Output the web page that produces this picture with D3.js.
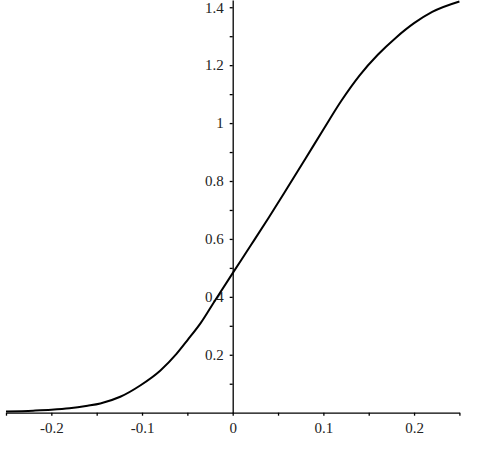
<!DOCTYPE html>
<html>
<head>
<meta charset="utf-8">
<script src="https://cdn.jsdelivr.net/npm/d3@7"></script>
<style>
  body { margin: 0; background: #fff; }
  svg { display: block; }
  .axis text { font-family: "Liberation Serif", "Times New Roman", serif; font-size: 15px; fill: #222; }
</style>
</head>
<body>
<div id="chart"></div>
<script>
// curve points
var xs = [-0.25, -0.22, -0.2, -0.18, -0.16, -0.146, -0.124, -0.102, -0.08, -0.062, -0.05, -0.035, -0.02,
          0, 0.02, 0.04, 0.06, 0.08, 0.1, 0.12, 0.14, 0.16, 0.18, 0.2, 0.22, 0.25];
var ys = [0.004, 0.007, 0.010, 0.015, 0.024, 0.032, 0.055, 0.094, 0.145, 0.203, 0.250, 0.311, 0.385,
          0.482, 0.578, 0.675, 0.775, 0.876, 0.978, 1.078, 1.165, 1.236, 1.295, 1.345, 1.384, 1.42];

var xTicks = [-0.2, -0.1, 0, 0.1, 0.2];
var xMinor = [-0.25, -0.15, -0.05, 0.05, 0.15, 0.25];
var yTicks = [0.2, 0.4, 0.6, 0.8, 1, 1.2, 1.4];
var yMinor = [0.1, 0.3, 0.5, 0.7, 0.9, 1.1, 1.3];

var w = 479, h = 460;

var svg = d3.select('#chart').append('svg').attr('width', w).attr('height', h);

var x = d3.scaleLinear().domain([-0.25, 0.25]).range([6, 459.4]);
var y = d3.scaleLinear().domain([0, 1.425]).range([412.7, 0]);

function fmt(d) {
    if (d === 0) return '0';
    if (d === 1) return '1';
    return (d < 0 ? '-' : '') + Math.abs(d).toFixed(1);
}

// x axis
var gx = svg.append('g').attr('class', 'axis').attr('transform', 'translate(0,' + y(0) + ')');
gx.call(d3.axisBottom(x).tickValues(xTicks).tickFormat(fmt).tickSize(3).tickPadding(7).tickSizeOuter(0));
gx.append('g').call(d3.axisBottom(x).tickValues(xMinor).tickFormat('').tickSize(3).tickSizeOuter(0))
    .select('.domain').remove();

// y axis
var gy = svg.append('g').attr('class', 'axis').attr('transform', 'translate(' + x(0) + ',0)');
gy.call(d3.axisLeft(y).tickValues(yTicks).tickFormat(fmt).tickSize(3).tickPadding(6).tickSizeOuter(0));
gy.append('g').call(d3.axisLeft(y).tickValues(yMinor).tickFormat('').tickSize(3).tickSizeOuter(0))
    .select('.domain').remove();

svg.selectAll('.axis .domain, .axis line').attr('stroke', '#000').attr('stroke-width', 1.3);

// curve
var pts = xs.map(function (d, i) { return [d, ys[i]]; });
var line = d3.line()
    .x(function (d) { return x(d[0]); })
    .y(function (d) { return y(d[1]); })
    .curve(d3.curveMonotoneX);

svg.append('path')
    .datum(pts)
    .attr('d', line)
    .attr('fill', 'none')
    .attr('stroke', '#000')
    .attr('stroke-width', 2);
</script>
</body>
</html>
